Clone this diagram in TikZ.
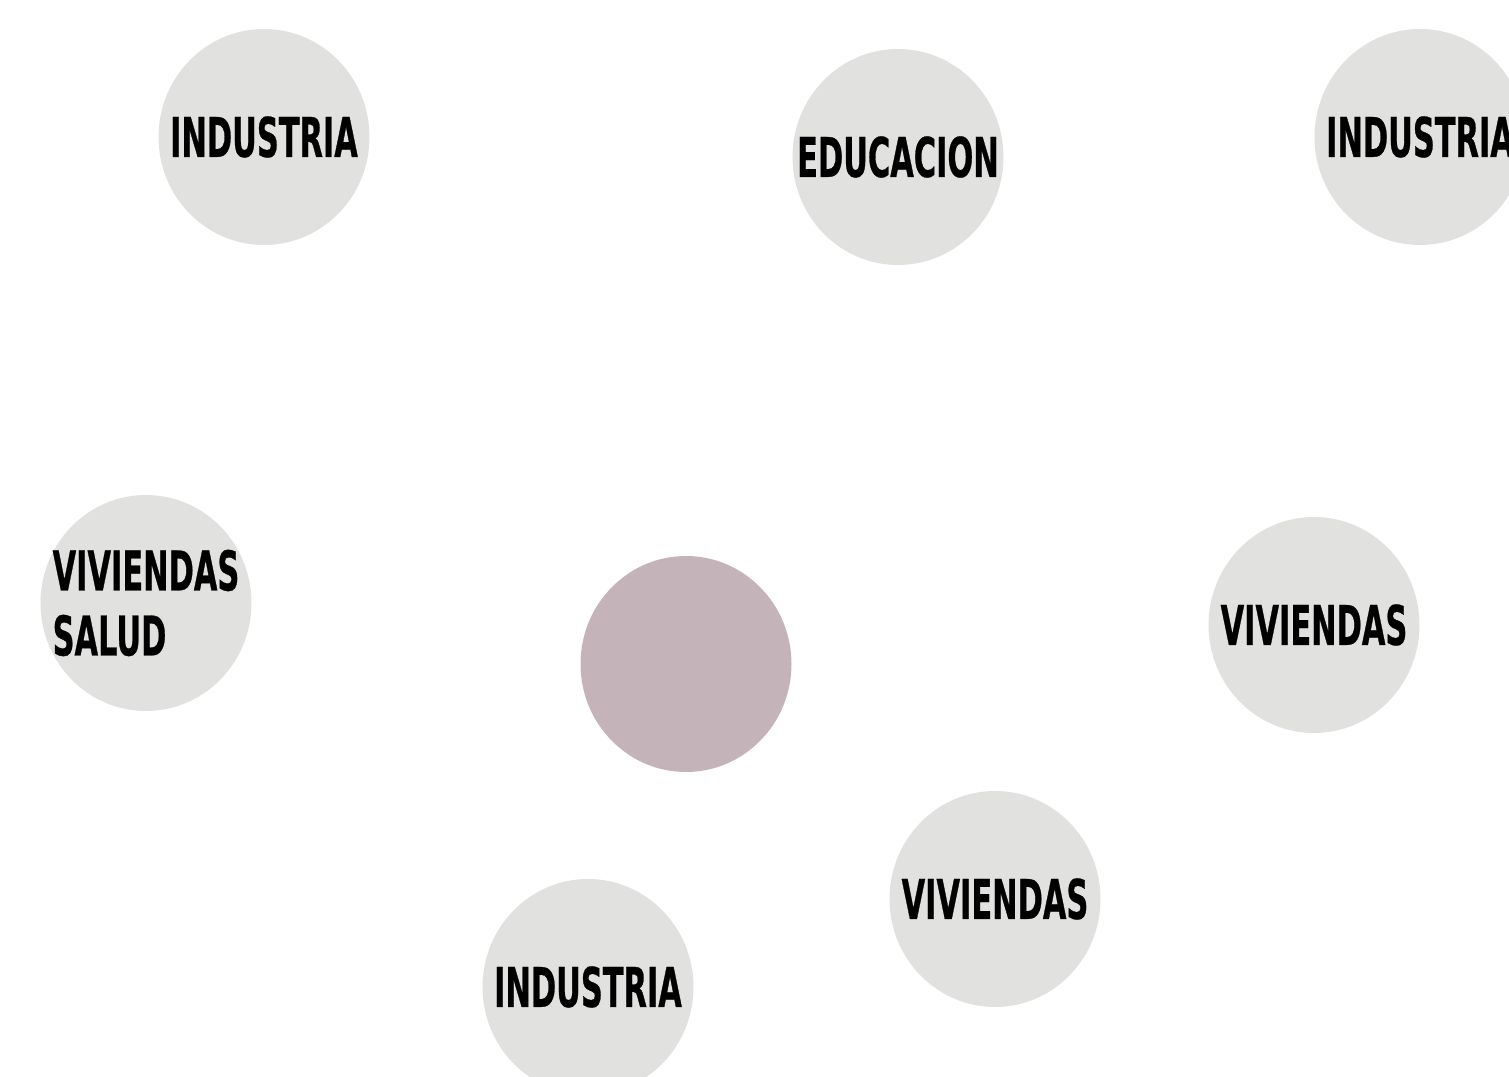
\documentclass[tikz,border=0pt]{standalone}
\usepackage{fontspec}
\usepackage{xcolor}
\usetikzlibrary{shapes.geometric}
\newfontfamily\lblfont[FakeStretch=0.555,FakeBold=0.5]{DejaVu Sans Bold}
\definecolor{bubblegray}{HTML}{E1E1E0}
\definecolor{mauve}{HTML}{C4B4B9}
\tikzset{
  disc/.style={ellipse, minimum width=2.11cm, minimum height=2.16cm, inner sep=0pt},
  bubble/.style={disc, fill=bubblegray,
    label={[font=\lblfont\fontsize{15.6}{18.5}\selectfont, align=left]center:#1}},
  hub/.style={disc, fill=mauve}
}
\begin{document}
\begin{tikzpicture}
        \useasboundingbox (0,0) rectangle (15.09,10.76);
        \clip (0,0) rectangle (15.09,10.76);
        \node[bubble=INDUSTRIA](ind1) at (2.64,9.39) {};
        \node[bubble=EDUCACION](edu) at (8.98,9.19) {};
        \node[bubble=INDUSTRIA](ind2) at (14.20,9.39) {};
        \node[bubble={VIVIENDAS\\SALUD}](vs) at (1.46,4.73) {};
        \node[hub](c) at (6.86,4.12) {};
        \node[bubble=VIVIENDAS](viv1) at (13.14,4.51) {};
        \node[bubble=VIVIENDAS](viv2) at (9.95,1.77) {};
        \node[bubble=INDUSTRIA](ind3) at (5.88,0.89) {};
        \end{tikzpicture}
\end{document}
